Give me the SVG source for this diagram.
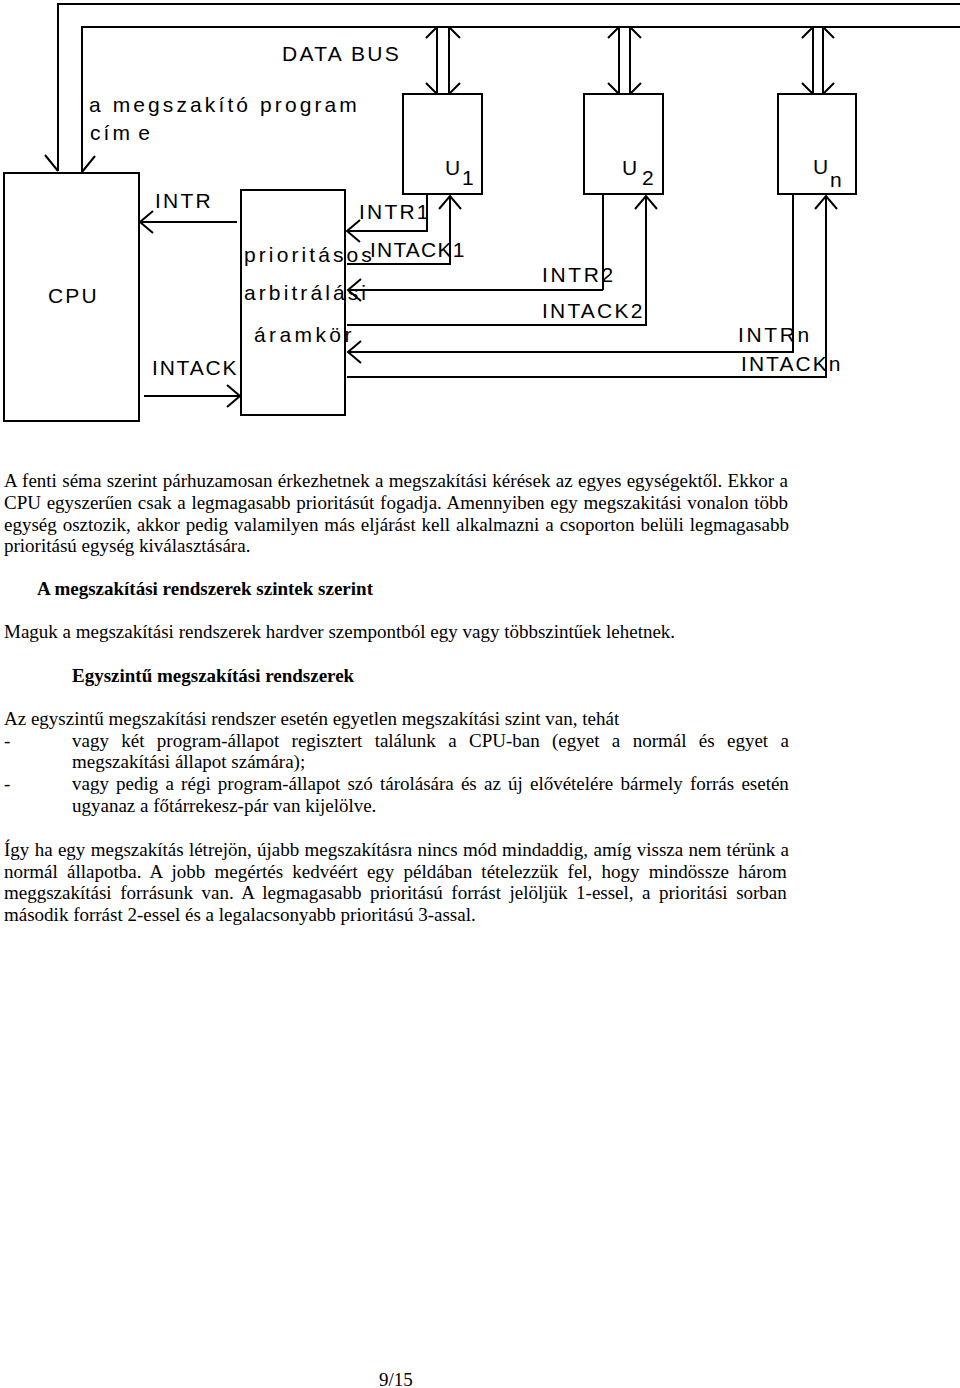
<svg xmlns="http://www.w3.org/2000/svg" width="960" height="1388" viewBox="0 0 960 1388">
<defs>
<style>
.box{fill:none;stroke:#000;stroke-width:2}
.ln{fill:none;stroke:#000;stroke-width:2}
.lbl{font-family:"Liberation Sans",Arial,sans-serif;font-size:21px;fill:#000;letter-spacing:2.2px}
.lw{letter-spacing:3.1px}
.body{font-family:"Liberation Serif","Times New Roman",serif;font-size:19px;fill:#000}
.b{font-weight:bold}
</style>
<marker id="ah" markerUnits="userSpaceOnUse" viewBox="0 0 16 24" markerWidth="16" markerHeight="24" refX="14" refY="12" orient="auto">
<path d="M1,1 L14,12 L1,23" fill="none" stroke="#000" stroke-width="2"/>
</marker>
</defs>
<rect width="960" height="1388" fill="#fff"/>

<g id="node-cpu">
<rect class="box" x="4" y="173" width="135" height="248"/>
<text class="lbl" x="48" y="303">CPU</text>
</g>
<g id="node-arbiter">
<rect class="box" x="241" y="190" width="104" height="225"/>
<text class="lbl lw" x="244" y="262">prioritásos</text>
<text class="lbl lw" x="244" y="300">arbitrálási</text>
<text class="lbl lw" x="254" y="342" style="letter-spacing:3.4px">áramkör</text>
</g>
<g id="node-u1">
<rect class="box" x="403" y="94" width="79" height="100"/>
<text class="lbl" x="445" y="175">U<tspan x="462" y="185">1</tspan></text>
</g>
<g id="node-u2">
<rect class="box" x="584" y="94" width="79" height="100"/>
<text class="lbl" x="622" y="175">U<tspan x="642" y="185">2</tspan></text>
</g>
<g id="node-un">
<rect class="box" x="778" y="94" width="78" height="100"/>
<text class="lbl" x="813" y="174" style="letter-spacing:0">U<tspan x="830" y="187">n</tspan></text>
</g>

<g id="connectors">
<path class="ln" d="M58,171 V4 H960"/>
<path class="ln" d="M82,172 V27 H960"/>
<path class="ln" d="M45,155 L58,171 M95,156 L82,172"/>
<path class="ln" d="M437,27 V94 M449,27 V94 M426,38 L437,27 M460,38 L449,27 M426,83 L437,94 M460,83 L449,94"/>
<path class="ln" d="M619,27 V94 M630,27 V94 M608,38 L619,27 M641,38 L630,27 M608,83 L619,94 M641,83 L630,94"/>
<path class="ln" d="M813,27 V94 M823,27 V94 M802,38 L813,27 M834,38 L823,27 M802,83 L813,94 M834,83 L823,94"/>
<path class="ln" d="M237,222 H140" marker-end="url(#ah)"/>
<path class="ln" d="M144,396 H240" marker-end="url(#ah)"/>
<path class="ln" d="M427,194 V231 H347" marker-end="url(#ah)"/>
<path class="ln" d="M347,264 H450 V196" marker-end="url(#ah)"/>
<path class="ln" d="M603,194 V290 M603,290 H348" marker-end="url(#ah)"/>
<path class="ln" d="M347,325 H646 V196" marker-end="url(#ah)"/>
<path class="ln" d="M793,194 V352 H348" marker-end="url(#ah)"/>
<path class="ln" d="M347,377 H826 V196" marker-end="url(#ah)"/>
</g>

<g id="labels">
<text class="lbl" x="282" y="61" style="letter-spacing:2.3px">DATA BUS</text>
<text class="lbl lw" x="89" y="112">a megszakító program</text>
<text class="lbl lw" x="90" y="140">cím<tspan dx="5">e</tspan></text>
<text class="lbl" x="155" y="208">INTR</text>
<text class="lbl" x="152" y="375" style="letter-spacing:1.8px">INTACK</text>
<text class="lbl" x="359" y="219">INTR1</text>
<text class="lbl" x="370" y="257" style="letter-spacing:1.2px">INTACK1</text>
<text class="lbl" x="542" y="282" style="letter-spacing:2.6px">INTR2</text>
<text class="lbl" x="542" y="318">INTACK2</text>
<text class="lbl" x="738" y="342" style="letter-spacing:2.6px">INTRn</text>
<text class="lbl" x="741" y="371" style="letter-spacing:2.05px">INTACKn</text>
</g>

<g id="text">
<text class="body" x="4" y="487" style="word-spacing:0.64px">A fenti séma szerint párhuzamosan érkezhetnek a megszakítási kérések az egyes egységektől. Ekkor a</text>
<text class="body" x="4" y="509" style="word-spacing:0.95px">CPU egyszerűen csak a legmagasabb prioritásút fogadja. Amennyiben egy megszakitási vonalon több</text>
<text class="body" x="4" y="531" style="word-spacing:1.17px">egység osztozik, akkor pedig valamilyen más eljárást kell alkalmazni a csoporton belüli legmagasabb</text>
<text class="body" x="4" y="552">prioritású egység kiválasztására.</text>
<text class="body b" x="37" y="595">A megszakítási rendszerek szintek szerint</text>
<text class="body" x="4" y="638">Maguk a megszakítási rendszerek hardver szempontból egy vagy többszintűek lehetnek.</text>
<text class="body b" x="72" y="682">Egyszintű megszakítási rendszerek</text>
<text class="body" x="4" y="725">Az egyszintű megszakítási rendszer esetén egyetlen megszakítási szint van, tehát</text>
<text class="body" x="4" y="747">-</text>
<text class="body" x="72" y="747" style="word-spacing:7.6px">vagy két program-állapot regisztert találunk a CPU-ban (egyet a normál és egyet a</text>
<text class="body" x="72" y="768">megszakítási állapot számára);</text>
<text class="body" x="4" y="790">-</text>
<text class="body" x="72" y="790" style="word-spacing:2.43px">vagy pedig a régi program-állapot szó tárolására és az új elővételére bármely forrás esetén</text>
<text class="body" x="72" y="812">ugyanaz a főtárrekesz-pár van kijelölve.</text>
<text class="body" x="4" y="856" style="word-spacing:0.59px">Így ha egy megszakítás létrejön, újabb megszakításra nincs mód mindaddig, amíg vissza nem térünk a</text>
<text class="body" x="4" y="878" style="word-spacing:4.47px">normál állapotba. A jobb megértés kedvéért egy példában tételezzük fel, hogy mindössze három</text>
<text class="body" x="4" y="899" style="word-spacing:3.77px">meggszakítási forrásunk van. A legmagasabb prioritású forrást jelöljük 1-essel, a prioritási sorban</text>
<text class="body" x="4" y="921">második forrást 2-essel és a legalacsonyabb prioritású 3-assal.</text>
<text class="body" x="379" y="1386">9/15</text>
</g>
</svg>
